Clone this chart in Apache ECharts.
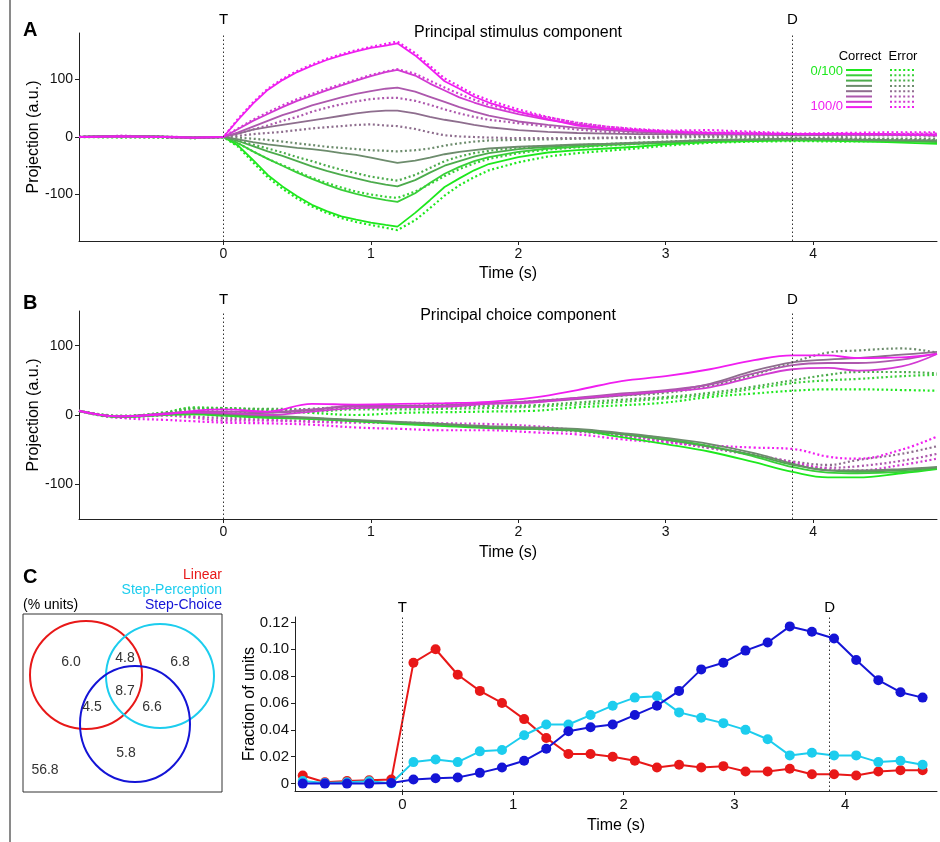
<!DOCTYPE html>
<html>
<head>
<meta charset="utf-8">
<script src="https://cdn.jsdelivr.net/npm/echarts@6.0.0/dist/echarts.min.js"></script>
<style>
  html, body { margin: 0; padding: 0; background: #fff; }
  #chart { width: 940px; height: 842px; }
</style>
</head>
<body>
<div id="chart"></div>
<script>
// ---- data ----
const eventTimes = [0, 3.86];
const eventNames = ['T', 'D'];
const timeTicks = [0, 1, 2, 3, 4];

// panel A: projection on principal stimulus component, 8 conditions (0/100 ... 100/0)
const tA = [-0.98, -0.7, -0.4, -0.2, 0, 0.1, 0.2, 0.3, 0.4, 0.5, 0.6, 0.7, 0.8, 0.9, 1.0, 1.1, 1.18,
  1.3, 1.4, 1.5, 1.6, 1.7, 1.8, 2.0, 2.2, 2.4, 2.6, 2.8, 3.0, 3.3, 3.6, 3.9, 4.2, 4.5, 4.84];

const stimCorrect = [
  [0, 1, 0, -1, 0, -15, -40, -66, -86, -103, -118, -129, -138, -144, -149, -153, -156, -132, -110, -87, -72, -58, -47, -35, -27, -23, -20, -17, -13, -9, -7, -6, -7, -9, -12],
  [0, 2, 0, -1, 0, -11, -25, -38, -50, -62, -73, -83, -92, -99, -105, -110, -113, -98, -80, -64, -52, -42, -35, -26, -20, -17, -14, -12, -10, -7, -5, -4, -5, -7, -9],
  [0, 1, 0, -1, 0, -7, -16, -25, -33, -42, -51, -59, -66, -72, -78, -83, -86, -75, -62, -50, -42, -34, -28, -21, -17, -14, -12, -11, -9, -6, -5, -4, -5, -6, -8],
  [0, 2, 1, -1, 0, -4, -9, -13, -16, -19, -21, -24, -28, -31, -36, -41, -45, -41, -36, -30, -26, -23, -20, -17, -15, -13, -12, -10, -8, -5, -4, -3, -4, -5, -6],
  [0, 2, 0, -1, 0, 6, 13, 17, 21, 25, 29, 33, 37, 41, 44, 46, 46, 41, 35, 30, 26, 21, 17, 12, 9, 7, 6, 5, 5, 4, 4, 3, 4, 4, 3],
  [0, 1, 0, -1, 0, 8, 18, 28, 38, 46, 55, 62, 69, 75, 80, 84, 86, 79, 70, 61, 52, 44, 37, 27, 21, 16, 12, 9, 7, 5, 5, 4, 4, 4, 3],
  [0, 1, 0, -1, 0, 14, 28, 40, 52, 63, 72, 81, 90, 98, 106, 113, 117, 107, 93, 81, 69, 60, 52, 40, 30, 22, 15, 11, 9, 7, 6, 5, 5, 4, 3],
  [0, 1, 0, -1, 0, 30, 58, 82, 99, 113, 124, 134, 142, 149, 155, 159, 163, 142, 120, 97, 84, 70, 60, 44, 31, 20, 14, 12, 9, 7, 6, 5, 6, 5, 4]
];
const stimError = [
  [0, -1, 0, -2, 0, -17, -44, -70, -90, -107, -121, -132, -141, -148, -153, -158, -162, -145, -124, -102, -84, -70, -58, -44, -34, -28, -24, -20, -15, -10, -8, -7, -8, -7, -6],
  [0, 1, -1, -2, 0, -11, -25, -38, -49, -60, -71, -80, -88, -95, -100, -104, -106, -95, -82, -68, -56, -46, -38, -28, -22, -18, -15, -12, -10, -7, -5, -5, -5, -6, -7],
  [0, 0, -1, -1, 0, -6, -13, -20, -27, -35, -42, -50, -57, -63, -69, -73, -76, -66, -54, -42, -34, -28, -24, -18, -16, -14, -12, -10, -8, -5, -4, -3, -3, -4, -5],
  [0, 1, 0, -1, 0, -1, -3, -5, -8, -11, -14, -17, -19, -21, -23, -24, -25, -23, -20, -15, -11, -8, -6, -5, -4, -3, -2, -2, -1, 0, -1, -2, -2, -3, -3],
  [0, 1, 0, -1, 0, 2, 5, 7, 9, 12, 15, 17, 19, 21, 22, 20, 19, 14, 8, 3, 1, 0, -1, -2, -2, -2, -1, 0, 1, 2, 2, 3, 2, 3, 2],
  [0, 2, 0, -1, 0, 6, 13, 20, 28, 35, 44, 51, 57, 62, 66, 68, 68, 63, 56, 48, 41, 35, 30, 24, 18, 13, 9, 7, 6, 6, 5, 4, 4, 5, 4],
  [0, 1, 0, -1, 0, 15, 30, 43, 55, 66, 75, 84, 92, 100, 108, 114, 118, 110, 98, 86, 75, 65, 56, 44, 34, 25, 18, 13, 10, 8, 7, 5, 5, 5, 6],
  [0, 2, 1, -1, 0, 32, 60, 84, 101, 115, 126, 136, 144, 151, 157, 162, 166, 146, 124, 102, 88, 74, 64, 48, 35, 24, 18, 14, 11, 12, 9, 6, 7, 8, 8]
];

// panel B: projection on principal choice component
const tB = [-0.98, -0.7, -0.4, -0.2, 0, 0.3, 0.6, 0.9, 1.2, 1.5, 1.8, 2.1, 2.4, 2.7, 3.0, 3.3, 3.6, 3.86, 4.1, 4.3, 4.6, 4.84];

const choiceCorrect = [
  [6, -3, 0, 1, -1, -4, -6, -9, -13, -16, -19, -20, -22, -32, -42, -53, -68, -82, -90, -90, -84, -78],
  [6, -3, 1, 2, 0, -3, -5, -8, -12, -15, -17, -19, -21, -27, -34, -45, -60, -75, -83, -84, -82, -77],
  [6, -2, 1, 3, 1, -2, -5, -8, -11, -14, -18, -20, -23, -28, -36, -46, -58, -72, -80, -82, -80, -76],
  [6, -2, 2, 3, 2, -1, -4, -7, -10, -13, -16, -18, -20, -26, -33, -42, -55, -70, -80, -80, -78, -75],
  [6, -2, 2, 4, 2, 3, 7, 14, 13, 14, 17, 19, 23, 28, 34, 45, 64, 76, 80, 82, 87, 91],
  [6, -2, 2, 5, 5, 4, 8, 12, 12, 14, 17, 20, 25, 31, 36, 44, 60, 72, 75, 75, 80, 89],
  [6, -2, 2, 4, 3, 0, 5, 10, 11, 12, 16, 18, 24, 29, 34, 40, 55, 66, 68, 64, 70, 88],
  [6, -2, 1, 6, 8, 5, 16, 15, 16, 17, 19, 25, 36, 49, 56, 66, 79, 86, 86, 82, 83, 88]
];
const choiceError = [
  [6, -3, 3, 10, 10, 6, 3, 0, 3, 4, 5, 6, 11, 14, 18, 26, 31, 35, 37, 37, 36, 35],
  [6, -2, 4, 11, 10, 8, 5, 8, 8, 9, 10, 12, 15, 19, 24, 29, 38, 46, 50, 52, 56, 58],
  [6, -1, 3, 9, 9, 9, 8, 10, 11, 12, 13, 14, 18, 22, 26, 32, 41, 50, 58, 62, 62, 60],
  [6, -2, 2, 6, 5, 4, 9, 12, 13, 15, 16, 20, 24, 28, 32, 42, 58, 76, 90, 93, 96, 90],
  [6, -3, 1, 2, -2, -4, -5, -8, -12, -15, -17, -20, -22, -30, -38, -48, -58, -67, -72, -65, -56, -45],
  [6, -3, 0, -2, -5, -7, -9, -10, -12, -14, -17, -20, -24, -30, -37, -46, -58, -70, -76, -74, -66, -56],
  [6, -4, -1, -4, -8, -8, -10, -11, -11, -12, -13, -16, -22, -30, -38, -47, -57, -68, -78, -80, -72, -63],
  [6, -4, -7, -9, -11, -12, -14, -18, -20, -22, -22, -25, -28, -35, -40, -44, -47, -49, -60, -63, -50, -31]
];

// panel C: fraction of units per time bin
const tC = [-0.9, -0.7, -0.5, -0.3, -0.1, 0.1, 0.3, 0.5, 0.7, 0.9, 1.1, 1.3, 1.5, 1.7, 1.9,
  2.1, 2.3, 2.5, 2.7, 2.9, 3.1, 3.3, 3.5, 3.7, 3.9, 4.1, 4.3, 4.5, 4.7];
const linear = [0.006, 0.001, 0.002, 0.0025, 0.003, 0.090, 0.100, 0.081, 0.069, 0.060, 0.048, 0.034, 0.022, 0.022, 0.020,
  0.017, 0.012, 0.014, 0.012, 0.013, 0.009, 0.009, 0.011, 0.007, 0.007, 0.006, 0.009, 0.010, 0.010];
const stepPerception = [0.002, 0.0005, 0.001, 0.0017, 0.0002, 0.016, 0.018, 0.016, 0.024, 0.025, 0.036, 0.044, 0.044, 0.051, 0.058,
  0.064, 0.065, 0.053, 0.049, 0.045, 0.040, 0.033, 0.021, 0.023, 0.021, 0.021, 0.016, 0.017, 0.014];
const stepChoice = [0, 0, 0, 0, 0.0005, 0.003, 0.004, 0.0045, 0.008, 0.012, 0.017, 0.026, 0.039, 0.042, 0.044,
  0.051, 0.058, 0.069, 0.085, 0.090, 0.099, 0.105, 0.117, 0.113, 0.108, 0.092, 0.077, 0.068, 0.064];
const fracTicks = [0, 0.02, 0.04, 0.06, 0.08, 0.10, 0.12];

// Venn (% units): Linear only, L+P, Perception only, all three, L+C, P+C, Choice only, none
const vennValues = [6.0, 4.8, 6.8, 8.7, 4.5, 6.6, 5.8, 56.8];
const setNames = ['Linear', 'Step-Perception', 'Step-Choice'];

// ---- styling ----
const FONT = '"Liberation Sans", Arial, Helvetica, sans-serif';
const condColors = ['#1ee81e', '#38cf38', '#4cab4c', '#6d8c6d', '#8e6e8e', '#ad58ad', '#d23ad2', '#f01ef0'];
const setColors = ['#e81818', '#1ccdee', '#1414d6'];

function xAxisCfg(gridIndex, min, max, fontSize, nameGap) {
  return {
    type: 'value', gridIndex: gridIndex, min: min, max: max,
    name: 'Time (s)', nameLocation: 'middle', nameGap: nameGap,
    nameTextStyle: { fontSize: 16, color: '#000', fontFamily: FONT },
    axisLine: { onZero: false, lineStyle: { color: '#222', width: 1 } },
    axisTick: { show: true, length: 4, customValues: timeTicks, lineStyle: { color: '#222' } },
    axisLabel: { customValues: timeTicks, fontSize: fontSize, color: '#111', margin: 6, fontFamily: FONT },
    splitLine: { show: false }
  };
}
function yAxisCfg(gridIndex, min, max, ticks, name, fontSize, fmt) {
  return {
    type: 'value', gridIndex: gridIndex, min: min, max: max,
    name: name, nameLocation: 'middle', nameGap: 37, nameMoveOverlap: false,
    nameTextStyle: { fontSize: 16, color: '#000', fontFamily: FONT },
    axisLine: { show: true, onZero: false, lineStyle: { color: '#222', width: 1 } },
    axisTick: { show: true, length: 4, customValues: ticks, lineStyle: { color: '#222' } },
    axisLabel: { customValues: ticks, fontSize: fontSize, color: '#111', margin: 6, fontFamily: FONT, formatter: fmt },
    splitLine: { show: false }
  };
}
function eventLines(dist) {
  return {
    silent: true, symbol: 'none', animation: false,
    lineStyle: { color: '#333', type: [1.5, 2.5], width: 1 },
    label: { position: 'end', formatter: '{b}', fontSize: 15, color: '#000', distance: dist, fontFamily: FONT },
    data: eventTimes.map((t, i) => ({ name: eventNames[i], xAxis: t }))
  };
}

const series = [];
function addLines(gridIdx, times, arrs, dotted, smooth) {
  arrs.forEach((vals, k) => {
    series.push({
      type: 'line', xAxisIndex: gridIdx, yAxisIndex: gridIdx,
      name: (dotted ? 'error ' : 'correct ') + k,
      data: times.map((t, i) => [t, vals[i]]),
      symbol: 'none', smooth: smooth, silent: true, animation: false,
      z: dotted ? 2 : 3,
      lineStyle: { color: condColors[k], width: dotted ? 2.2 : 1.8, type: dotted ? [2, 2.6] : 'solid' }
    });
  });
}
addLines(0, tA, stimError, true, false);
addLines(0, tA, stimCorrect, false, false);
series[0].markLine = eventLines(6);
addLines(1, tB, choiceError, true, 0.4);
addLines(1, tB, choiceCorrect, false, 0.4);
series[16].markLine = eventLines(4);

[linear, stepPerception, stepChoice].forEach((vals, k) => {
  series.push({
    type: 'line', xAxisIndex: 2, yAxisIndex: 2, name: setNames[k],
    data: tC.map((t, i) => [t, vals[i]]),
    symbol: 'circle', symbolSize: 10, animation: false,
    lineStyle: { color: setColors[k], width: 2 },
    itemStyle: { color: setColors[k] },
    z: 3 + k
  });
});
series[32].markLine = eventLines(2);

// ---- graphic decorations: panel letters, titles, legend, Venn ----
const graphic = [];
function txt(x, y, text, opt) {
  opt = opt || {};
  graphic.push({
    type: 'text', x: x, y: y, z: 10, silent: true,
    style: {
      text: text, fill: opt.color || '#000',
      font: (opt.bold ? 'bold ' : '') + (opt.size || 14) + 'px ' + FONT,
      textAlign: opt.align || 'left', align: opt.align || 'left',
      textVerticalAlign: 'middle', verticalAlign: 'middle'
    }
  });
}
graphic.push({ type: 'rect', shape: { x: 9, y: 0, width: 2, height: 842 }, style: { fill: '#8a8a8a' }, silent: true });
txt(23, 30, 'A', { bold: true, size: 20 });
txt(23, 303, 'B', { bold: true, size: 20 });
txt(23, 577, 'C', { bold: true, size: 20 });
txt(518, 33, 'Principal stimulus component', { size: 16, align: 'center' });
txt(518, 316, 'Principal choice component', { size: 16, align: 'center' });

// panel A legend
txt(860, 56, 'Correct', { size: 13, align: 'center' });
txt(903, 56, 'Error', { size: 13, align: 'center' });
txt(843, 71, '0/100', { size: 13, align: 'right', color: condColors[0] });
txt(843, 106, '100/0', { size: 13, align: 'right', color: condColors[7] });
condColors.forEach((c, k) => {
  const y = 70 + k * 5.3;
  graphic.push({ type: 'line', silent: true, shape: { x1: 846, y1: y, x2: 872, y2: y }, style: { stroke: c, lineWidth: 2 } });
  graphic.push({ type: 'line', silent: true, shape: { x1: 890, y1: y, x2: 916, y2: y }, style: { stroke: c, lineWidth: 2, lineDash: [2, 2.4] } });
});

// panel C legend and Venn diagram
setNames.forEach((n, k) => txt(222, 575 + k * 15, n, { size: 14, align: 'right', color: setColors[k] }));
txt(23, 605, '(% units)', { size: 14 });
graphic.push({ type: 'rect', silent: true, shape: { x: 23, y: 614, width: 199, height: 178 }, style: { fill: 'none', stroke: '#333', lineWidth: 1 } });
const vennCircles = [[86, 675, 56, 54], [160, 676, 54, 52], [135, 724, 55, 58]];
vennCircles.forEach((c, k) => {
  graphic.push({ type: 'ellipse', silent: true, shape: { cx: c[0], cy: c[1], rx: c[2], ry: c[3] }, style: { fill: 'none', stroke: setColors[k], lineWidth: 2 } });
});
const vennPos = [[71, 662], [125, 658], [180, 662], [125, 691], [92, 707], [152, 707], [126, 753], [45, 770]];
vennValues.forEach((v, i) => txt(vennPos[i][0], vennPos[i][1], v.toFixed(1), { size: 14, align: 'center', color: '#333' }));

const chart = echarts.init(document.getElementById('chart'), null, { renderer: 'canvas' });
chart.setOption({
  backgroundColor: '#fff',
  animation: false,
  textStyle: { fontFamily: FONT },
  grid: [
    { left: 79, right: 3, top: 33, bottom: 601 },
    { left: 79, right: 3, top: 311, bottom: 323 },
    { left: 295, right: 3, top: 617, bottom: 51 }
  ],
  xAxis: [
    xAxisCfg(0, -0.98, 4.84, 14, 25),
    xAxisCfg(1, -0.98, 4.84, 14, 26),
    xAxisCfg(2, -0.97, 4.83, 15, 27)
  ],
  yAxis: [
    yAxisCfg(0, -181, 181, [-100, 0, 100], 'Projection (a.u.)', 14),
    yAxisCfg(1, -150, 150, [-100, 0, 100], 'Projection (a.u.)', 14),
    yAxisCfg(2, -0.0055, 0.124, fracTicks, 'Fraction of units', 15, v => (v === 0 ? '0' : v.toFixed(2)))
  ],
  series: series,
  graphic: graphic
});
window.addEventListener('resize', function () {
  chart.resize();
});
</script>
</body>
</html>
